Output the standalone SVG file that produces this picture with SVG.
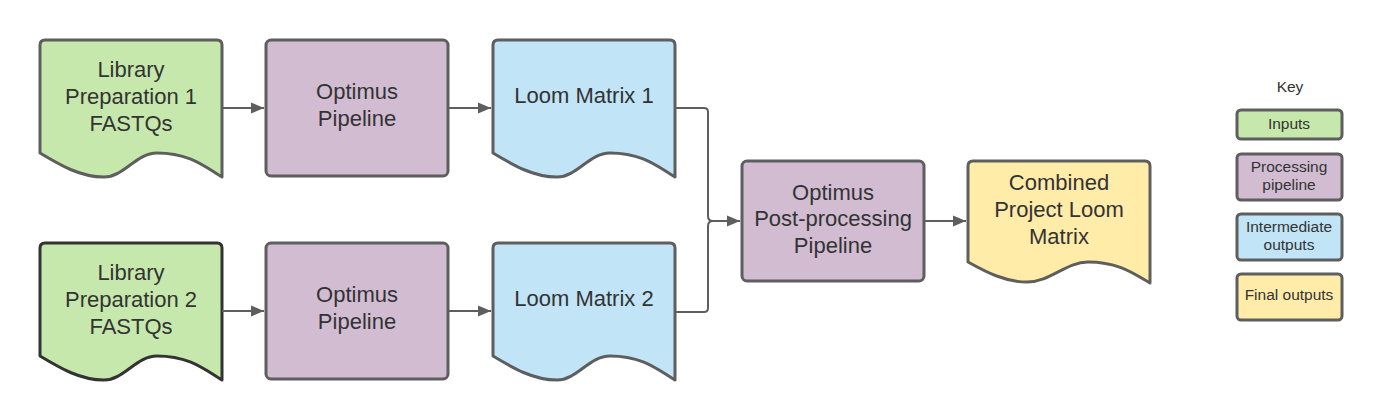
<svg xmlns="http://www.w3.org/2000/svg" width="1400" height="420" viewBox="0 0 1400 420">
<defs>
<style>
.t{font-family:"Liberation Sans",Arial,sans-serif;font-size:22px;fill:#333;text-anchor:middle}
.k{font-family:"Liberation Sans",Arial,sans-serif;font-size:15.5px;fill:#333;text-anchor:middle}
.s{stroke:#5e5e5e;stroke-width:3;stroke-linejoin:round}
.c{fill:none;stroke:#5e5e5e;stroke-width:2}
.g{fill:#c7e8ac}.p{fill:#d1bcd2}.b{fill:#c1e4f7}.y{fill:#ffeca9}
</style>
<marker id="ah" markerWidth="14" markerHeight="12" refX="13" refY="6" orient="auto" markerUnits="userSpaceOnUse">
<path d="M0,0.5 L13,6 L0,11.5 Z" fill="#5e5e5e"/>
</marker>
</defs>
<rect width="1400" height="420" fill="#fff"/>

<g id="input1">
<path class="s g" d="M40,153 V45 Q40,40 45,40 H217 Q222,40 222,45 V177 C205,167 190,153 157,153 C136,153 124,177 104,177 C80,177 60,165 40,153 Z"/>
<text class="t" x="131" y="77">Library</text>
<text class="t" x="131" y="104">Preparation 1</text>
<text class="t" x="131" y="131">FASTQs</text>
</g>
<g id="input2">
<path class="g" d="M40,356 V248 Q40,243 45,243 H217 Q222,243 222,248 V380 C205,370 190,356 157,356 C136,356 124,380 104,380 C80,380 60,368 40,356 Z" stroke="#333" stroke-width="3" stroke-linejoin="round"/>
<text class="t" x="131" y="280">Library</text>
<text class="t" x="131" y="307">Preparation 2</text>
<text class="t" x="131" y="334">FASTQs</text>
</g>

<g id="optimus1">
<rect class="s p" x="266" y="40" width="182" height="136" rx="5"/>
<text class="t" x="357" y="99">Optimus</text>
<text class="t" x="357" y="126">Pipeline</text>
</g>
<g id="optimus2">
<rect class="s p" x="266" y="243" width="182" height="136" rx="5"/>
<text class="t" x="357" y="302">Optimus</text>
<text class="t" x="357" y="329">Pipeline</text>
</g>

<g id="loom1">
<path class="s b" d="M493,153 V45 Q493,40 498,40 H670 Q675,40 675,45 V177 C658,167 643,153 610,153 C589,153 577,177 557,177 C533,177 513,165 493,153 Z"/>
<text class="t" x="584" y="103">Loom Matrix 1</text>
</g>
<g id="loom2">
<path class="s b" d="M493,356 V248 Q493,243 498,243 H670 Q675,243 675,248 V380 C658,370 643,356 610,356 C589,356 577,380 557,380 C533,380 513,368 493,356 Z"/>
<text class="t" x="584" y="306">Loom Matrix 2</text>
</g>

<g id="postproc">
<rect class="s p" x="742" y="161" width="182" height="120" rx="5"/>
<text class="t" x="833" y="200">Optimus</text>
<text class="t" x="833" y="226">Post-processing</text>
<text class="t" x="833" y="253">Pipeline</text>
</g>

<g id="combined">
<path class="s y" d="M968,262 V166 Q968,161 973,161 H1145 Q1150,161 1150,166 V283 C1133,273 1118,262 1088,262 C1066,262 1050,282 1027,282 C1005,282 986,272 968,262 Z"/>
<text class="t" x="1059" y="190">Combined</text>
<text class="t" x="1059" y="217">Project Loom</text>
<text class="t" x="1059" y="244">Matrix</text>
</g>

<g id="connectors">
<path class="c" d="M222,108 H264" marker-end="url(#ah)"/>
<path class="c" d="M448,108 H491" marker-end="url(#ah)"/>
<path class="c" d="M222,311 H264" marker-end="url(#ah)"/>
<path class="c" d="M448,311 H491" marker-end="url(#ah)"/>
<path class="c" d="M675,108 H704 Q708,108 708,112 V216 Q708,221 713,221 H740" marker-end="url(#ah)"/>
<path class="c" d="M675,312 H704 Q708,312 708,308 V226 Q708,221 713,221"/>
<path class="c" d="M924,221 H966" marker-end="url(#ah)"/>
</g>

<g id="key">
<text class="k" x="1290" y="92">Key</text>
<g id="key-inputs">
<rect class="s g" x="1237" y="110" width="105" height="29" rx="4"/>
<text class="k" x="1289" y="129">Inputs</text>
</g>
<g id="key-processing">
<rect class="s p" x="1237" y="154" width="105" height="46" rx="4"/>
<text class="k" x="1289" y="172">Processing</text>
<text class="k" x="1289" y="190">pipeline</text>
</g>
<g id="key-intermediate">
<rect class="s b" x="1237" y="214" width="105" height="46" rx="4"/>
<text class="k" x="1289" y="232">Intermediate</text>
<text class="k" x="1289" y="250">outputs</text>
</g>
<g id="key-final">
<rect class="s y" x="1237" y="274" width="105" height="46" rx="4"/>
<text class="k" x="1289" y="300">Final outputs</text>
</g>
</g>
</svg>
